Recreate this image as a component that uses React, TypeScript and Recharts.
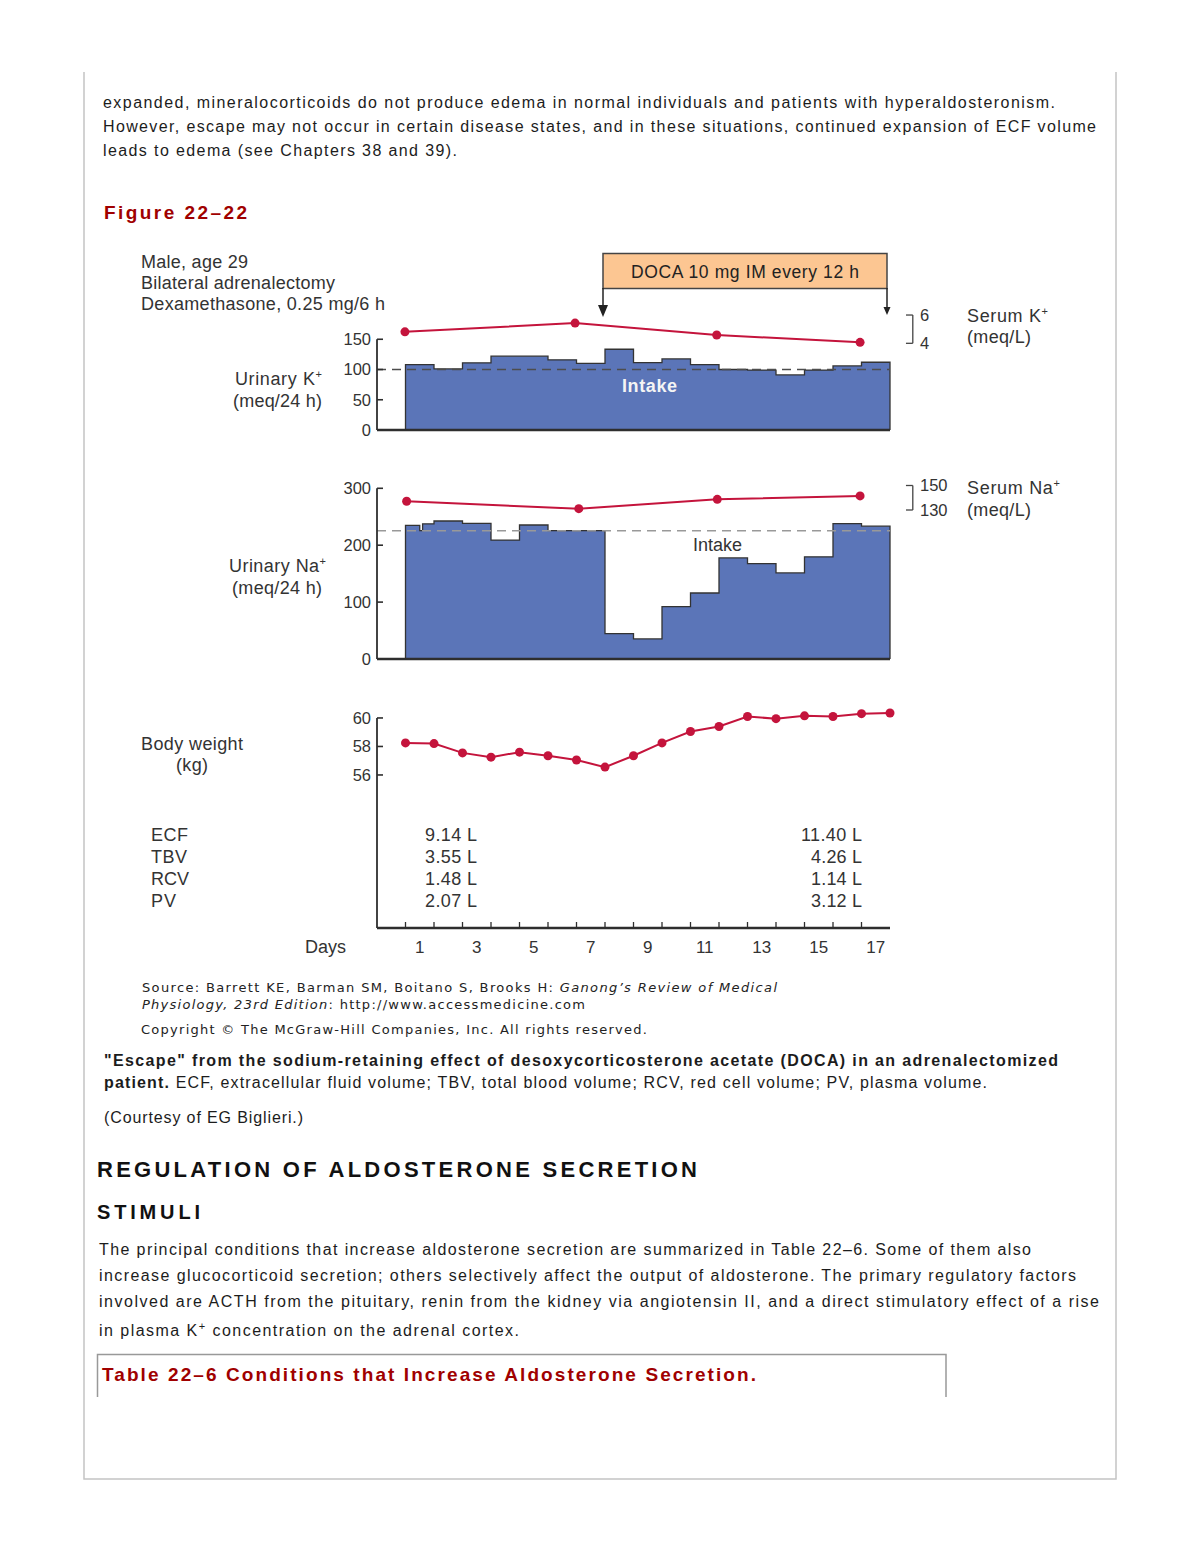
import React from "react";
import { ComposedChart, Area, Line, XAxis, YAxis, ReferenceLine } from "recharts";

const FONT = "'Liberation Sans', Arial, Helvetica, sans-serif";
const VERDANA = "'DejaVu Sans', Verdana, sans-serif";
const INK = "#333";
const PAGE_INK = "#1c1c1c";
const AXIS = "#2e2e2e";
const BLUE = "#5b75b8";
const RED = "#c4143c";
const DARK_RED = "#a00000";

// urinary K+ (meq/24 h), one step per day
const kDays = [1, 2, 3, 4, 5, 6, 7, 8, 9, 10, 11, 12, 13, 14, 15, 16, 17];
const urinaryK = [108, 101, 111, 122, 122, 116, 110, 133.5, 111.5, 117.5, 108, 100, 99, 91, 99, 106, 112];
const kIntake = 100;
const serumKDays = [0.48, 6.45, 11.42, 16.45];
const serumK = [4.81, 5.43, 4.59, 4.07];

// urinary Na+ (meq/24 h), step starts in days
const naStepStart = [0.5, 1.0, 1.1, 1.5, 2.5, 3.5, 4.5, 5.5, 7.5, 8.5, 9.5, 10.5, 11.5, 12.5, 13.5, 14.5, 15.5, 16.5];
const urinaryNa = [235, 225.5, 237.5, 242.5, 238.5, 209, 235.5, 225.5, 44.6, 35.2, 92, 116, 177.7, 167.7, 151.3, 179.5, 238, 233.4];
const naIntake = 225.5;
const serumNaDays = [0.54, 6.58, 11.44, 16.45];
const serumNa = [137.1, 131.1, 138.7, 141.5];

// body weight (kg)
const weightDays = [0.5, 1.5, 2.5, 3.5, 4.5, 5.5, 6.5, 7.5, 8.5, 9.5, 10.5, 11.5, 12.5, 13.5, 14.5, 15.5, 16.5, 17.5];
const bodyWeight = [58.25, 58.2, 57.55, 57.25, 57.6, 57.35, 57.05, 56.55, 57.35, 58.25, 59.05, 59.4, 60.1, 59.95, 60.15, 60.1, 60.3, 60.35];

// axes
const dayLabels = [1, 3, 5, 7, 9, 11, 13, 15, 17];
const dayMarks = [0.5, 1.5, 2.5, 3.5, 4.5, 5.5, 6.5, 7.5, 8.5, 9.5, 10.5, 11.5, 12.5, 13.5, 14.5, 15.5, 16.5];
const kTicks = [0, 50, 100, 150];
const naTicks = [0, 100, 200, 300];
const weightTicks = [56, 58, 60];
const serumKTicks = [4, 6];
const serumNaTicks = [130, 150];

const X_DOMAIN: [number, number] = [-0.5, 17.5];
const K_DOMAIN: [number, number] = [0, 208.3];
const SERUM_K_DOMAIN: [number, number] = [-2.13, 6.78];
const NA_DOMAIN: [number, number] = [0, 318.1];
const SERUM_NA_DOMAIN: [number, number] = [8.37, 156.12];
const WEIGHT_DOMAIN: [number, number] = [45.26, 60.98];
const BRACKET_IN = 18.06;
const BRACKET_OUT = 18.3;

function stepRows(starts: number[], values: number[]) {
  const rows = [{ x: starts[0], v: 0 }];
  starts.forEach((s, i) => rows.push({ x: s, v: values[i] }));
  rows.push({ x: X_DOMAIN[1], v: values[values.length - 1] });
  rows.push({ x: X_DOMAIN[1], v: 0 });
  return rows;
}

const kRows = stepRows(kDays.map((d) => d - 0.5), urinaryK);
const naRows = stepRows(naStepStart, urinaryNa);
const serumKRows = serumKDays.map((x, i) => ({ x, v: serumK[i] }));
const serumNaRows = serumNaDays.map((x, i) => ({ x, v: serumNa[i] }));
const weightRows = weightDays.map((x, i) => ({ x, v: bodyWeight[i] }));

const leftTick = (p: any) => (
  <g>
    <line x1={p.x} x2={p.x + 6} y1={p.y} y2={p.y} stroke={AXIS} strokeWidth={1.6} />
    <text x={p.x - 6} y={p.y} dy="0.36em" textAnchor="end" fontSize={16.5} fill={INK} fontFamily={FONT}>
      {p.payload.value}
    </text>
  </g>
);

const serumTick = (p: any) => (
  <text x={p.x + 30} y={p.y} dy="0.36em" textAnchor="start" fontSize={16.5} fill={INK} fontFamily={FONT}>
    {p.payload.value}
  </text>
);

const dayTick = (p: any) => {
  const v = p.payload.value;
  if (dayLabels.includes(v)) {
    return (
      <text x={p.x} y={p.y + 19} dy="0.36em" textAnchor="middle" fontSize={17} fill={INK} fontFamily={FONT}>
        {v}
      </text>
    );
  }
  return <line x1={p.x} x2={p.x} y1={p.y - 6} y2={p.y} stroke={AXIS} strokeWidth={1.3} />;
};

function Bracket({ lo, hi }: { lo: number; hi: number }) {
  const common = { yAxisId: "serum", stroke: "#444", strokeWidth: 1.3, ifOverflow: "visible" as const };
  return (
    <>
      <ReferenceLine {...common} segment={[{ x: BRACKET_IN, y: hi }, { x: BRACKET_OUT, y: hi }]} />
      <ReferenceLine {...common} segment={[{ x: BRACKET_IN, y: lo }, { x: BRACKET_OUT, y: lo }]} />
      <ReferenceLine {...common} segment={[{ x: BRACKET_OUT, y: lo }, { x: BRACKET_OUT, y: hi }]} />
    </>
  );
}

function PotassiumPanel() {
  return (
    <div style={{ position: "absolute", left: 297, top: 300 }}>
      <ComposedChart width={653} height={144} margin={{ top: 4, right: 0, bottom: 0, left: 0 }}>
        <XAxis type="number" dataKey="x" domain={X_DOMAIN} tick={false} tickLine={false}
          axisLine={{ stroke: AXIS, strokeWidth: 2.5 }} height={14} />
        <YAxis yAxisId="left" type="number" domain={K_DOMAIN} ticks={kTicks} interval={0} width={80}
          axisLine={false} tickLine={false} tickSize={0} tickMargin={0} tick={leftTick} />
        <YAxis yAxisId="serum" orientation="right" type="number" domain={SERUM_K_DOMAIN} ticks={serumKTicks}
          interval={0} width={60} axisLine={false} tickLine={false} tickSize={0} tickMargin={0} tick={serumTick} />
        <Area yAxisId="left" data={kRows} dataKey="v" type="stepAfter" stroke="#333" strokeWidth={1.3}
          fill={BLUE} fillOpacity={1} isAnimationActive={false} activeDot={false} />
        <ReferenceLine yAxisId="left" y={kIntake} stroke="#4d4d4d" strokeWidth={1.5} strokeDasharray="9 6" />
        <ReferenceLine yAxisId="left" segment={[{ x: X_DOMAIN[0], y: 0 }, { x: X_DOMAIN[0], y: 150 }]}
          stroke={AXIS} strokeWidth={1.8} ifOverflow="visible" />
        <Bracket lo={4} hi={6} />
        <Line yAxisId="serum" data={serumKRows} dataKey="v" stroke={RED} strokeWidth={2}
          dot={{ r: 4.5, fill: RED, stroke: RED, strokeWidth: 0 }} activeDot={false} isAnimationActive={false} />
      </ComposedChart>
    </div>
  );
}

function SodiumPanel() {
  return (
    <div style={{ position: "absolute", left: 297, top: 474 }}>
      <ComposedChart width={653} height={199} margin={{ top: 4, right: 0, bottom: 0, left: 0 }}>
        <XAxis type="number" dataKey="x" domain={X_DOMAIN} tick={false} tickLine={false}
          axisLine={{ stroke: AXIS, strokeWidth: 2.5 }} height={14} />
        <YAxis yAxisId="left" type="number" domain={NA_DOMAIN} ticks={naTicks} interval={0} width={80}
          axisLine={false} tickLine={false} tickSize={0} tickMargin={0} tick={leftTick} />
        <YAxis yAxisId="serum" orientation="right" type="number" domain={SERUM_NA_DOMAIN} ticks={serumNaTicks}
          interval={0} width={60} axisLine={false} tickLine={false} tickSize={0} tickMargin={0} tick={serumTick} />
        <Area yAxisId="left" data={naRows} dataKey="v" type="stepAfter" stroke="#333" strokeWidth={1.3}
          fill={BLUE} fillOpacity={1} isAnimationActive={false} activeDot={false} />
        <ReferenceLine yAxisId="left" y={naIntake} stroke="#999" strokeWidth={1.6} strokeDasharray="9 6" />
        <ReferenceLine yAxisId="left" segment={[{ x: X_DOMAIN[0], y: 0 }, { x: X_DOMAIN[0], y: 300 }]}
          stroke={AXIS} strokeWidth={1.8} ifOverflow="visible" />
        <Bracket lo={130} hi={150} />
        <Line yAxisId="serum" data={serumNaRows} dataKey="v" stroke={RED} strokeWidth={2}
          dot={{ r: 4.5, fill: RED, stroke: RED, strokeWidth: 0 }} activeDot={false} isAnimationActive={false} />
      </ComposedChart>
    </div>
  );
}

function WeightPanel() {
  const xTicks = [...dayMarks, ...dayLabels].sort((a, b) => a - b);
  return (
    <div style={{ position: "absolute", left: 297, top: 700 }}>
      <ComposedChart width={603} height={258} data={weightRows} margin={{ top: 4, right: 10, bottom: 0, left: 0 }}>
        <XAxis type="number" dataKey="x" domain={X_DOMAIN} ticks={xTicks} interval={0} tickLine={false}
          tickSize={0} tickMargin={0} tick={dayTick} axisLine={{ stroke: AXIS, strokeWidth: 2.5 }} height={30} />
        <YAxis yAxisId="left" type="number" domain={WEIGHT_DOMAIN} ticks={weightTicks} interval={0} width={80}
          axisLine={false} tickLine={false} tickSize={0} tickMargin={0} tick={leftTick} />
        <ReferenceLine yAxisId="left" segment={[{ x: X_DOMAIN[0], y: WEIGHT_DOMAIN[0] }, { x: X_DOMAIN[0], y: 60 }]}
          stroke={AXIS} strokeWidth={1.8} ifOverflow="visible" />
        <Line yAxisId="left" dataKey="v" stroke={RED} strokeWidth={2}
          dot={{ r: 4.5, fill: RED, stroke: RED, strokeWidth: 0 }} activeDot={false} isAnimationActive={false} />
      </ComposedChart>
    </div>
  );
}

type TxtProps = {
  x: number;
  y: number;
  w?: number;
  size?: number;
  bold?: boolean;
  fill?: string;
  anchor?: "start" | "middle" | "end";
  family?: string;
  children: React.ReactNode;
};

function Txt({ x, y, w, size = 16, bold, fill = PAGE_INK, anchor = "start", family = FONT, children }: TxtProps) {
  return (
    <text x={x} y={y} fontSize={size} fontWeight={bold ? 700 : 400} fill={fill} textAnchor={anchor}
      fontFamily={family} textLength={w} lengthAdjust={w ? "spacing" : undefined}>
      {children}
    </text>
  );
}

const sup = (t: string) => (
  <tspan dy={-7} fontSize={11}>
    {t}
  </tspan>
);

function Page() {
  return (
    <svg width={1200} height={1550} style={{ position: "absolute", left: 0, top: 0, pointerEvents: "none" }}>
      <path d="M84,72 V1479 H1116 V72" fill="none" stroke="#c4c4c4" strokeWidth={1.5} />

      <Txt x={103} y={108} w={952}>expanded, mineralocorticoids do not produce edema in normal individuals and patients with hyperaldosteronism.</Txt>
      <Txt x={103} y={132} w={993}>However, escape may not occur in certain disease states, and in these situations, continued expansion of ECF volume</Txt>
      <Txt x={103} y={156} w={354}>leads to edema (see Chapters 38 and 39).</Txt>
      <Txt x={104} y={219} w={143} size={19} bold fill={DARK_RED}>Figure 22–22</Txt>

      <Txt x={141} y={268} w={107} size={18} fill={INK}>Male, age 29</Txt>
      <Txt x={141} y={289} w={194} size={18} fill={INK}>Bilateral adrenalectomy</Txt>
      <Txt x={141} y={310} w={244} size={18} fill={INK}>Dexamethasone, 0.25 mg/6 h</Txt>

      <rect x={603} y={253.5} width={284} height={35} fill="#fcc692" stroke="#444" strokeWidth={1.5} />
      <Txt x={631} y={278} w={228} size={17.5} fill="#222">DOCA 10 mg IM every 12 h</Txt>
      <line x1={603} x2={603} y1={288} y2={308} stroke="#222" strokeWidth={1.5} />
      <polygon points="598,305 608,305 603,317" fill="#222" />
      <line x1={887} x2={887} y1={288} y2={309} stroke="#222" strokeWidth={1.5} />
      <polygon points="883.5,307 890.5,307 887,315" fill="#222" />

      <Txt x={235} y={385} w={87} size={18} fill={INK}>Urinary K{sup("+")}</Txt>
      <Txt x={233} y={407} w={89} size={18} fill={INK}>(meq/24 h)</Txt>
      <Txt x={967} y={322} w={81} size={18} fill={INK}>Serum K{sup("+")}</Txt>
      <Txt x={967} y={343} w={64} size={18} fill={INK}>(meq/L)</Txt>
      <Txt x={622} y={391.5} w={55} size={18} bold fill="#f4f4f4">Intake</Txt>

      <Txt x={229} y={572} w={97} size={18} fill={INK}>Urinary Na{sup("+")}</Txt>
      <Txt x={232} y={594} w={90} size={18} fill={INK}>(meq/24 h)</Txt>
      <Txt x={967} y={494} w={93} size={18} fill={INK}>Serum Na{sup("+")}</Txt>
      <Txt x={967} y={516} w={64} size={18} fill={INK}>(meq/L)</Txt>
      <Txt x={693} y={551} w={49} size={18} fill={INK}>Intake</Txt>

      <Txt x={141} y={750} w={102} size={18} fill={INK}>Body weight</Txt>
      <Txt x={176} y={771} w={32} size={18} fill={INK}>(kg)</Txt>

      <Txt x={151} y={840.5} w={37} size={18} fill={INK}>ECF</Txt>
      <Txt x={151} y={862.5} w={36} size={18} fill={INK}>TBV</Txt>
      <Txt x={151} y={884.5} w={38} size={18} fill={INK}>RCV</Txt>
      <Txt x={151} y={906.5} w={25} size={18} fill={INK}>PV</Txt>
      <Txt x={425} y={840.5} w={52} size={18} fill={INK}>9.14 L</Txt>
      <Txt x={425} y={862.5} w={52} size={18} fill={INK}>3.55 L</Txt>
      <Txt x={425} y={884.5} w={52} size={18} fill={INK}>1.48 L</Txt>
      <Txt x={425} y={906.5} w={52} size={18} fill={INK}>2.07 L</Txt>
      <Txt x={862} y={840.5} w={61} size={18} fill={INK} anchor="end">11.40 L</Txt>
      <Txt x={862} y={862.5} w={51} size={18} fill={INK} anchor="end">4.26 L</Txt>
      <Txt x={862} y={884.5} w={51} size={18} fill={INK} anchor="end">1.14 L</Txt>
      <Txt x={862} y={906.5} w={51} size={18} fill={INK} anchor="end">3.12 L</Txt>
      <Txt x={305} y={953} w={41} size={18} fill={INK}>Days</Txt>

      <Txt x={142} y={992} w={635} size={13} family={VERDANA} fill="#222">
        Source: Barrett KE, Barman SM, Boitano S, Brooks H: <tspan fontStyle="italic">Ganong’s Review of Medical</tspan>
      </Txt>
      <Txt x={142} y={1009} w={443} size={13} family={VERDANA} fill="#222">
        <tspan fontStyle="italic">Physiology, 23rd Edition</tspan>: http://www.accessmedicine.com
      </Txt>
      <Txt x={141} y={1034} w={506} size={13} family={VERDANA} fill="#222">
        Copyright © The McGraw-Hill Companies, Inc. All rights reserved.
      </Txt>

      <Txt x={104} y={1066} w={954} bold>"Escape" from the sodium-retaining effect of desoxycorticosterone acetate (DOCA) in an adrenalectomized</Txt>
      <Txt x={104} y={1088} w={883}>
        <tspan fontWeight={700}>patient.</tspan> ECF, extracellular fluid volume; TBV, total blood volume; RCV, red cell volume; PV, plasma volume.
      </Txt>
      <Txt x={104} y={1123} w={199}>(Courtesy of EG Biglieri.)</Txt>

      <Txt x={97} y={1177} w={600} size={22} bold fill="#111">REGULATION OF ALDOSTERONE SECRETION</Txt>
      <Txt x={97} y={1219} w={103} size={20} bold fill="#111">STIMULI</Txt>

      <Txt x={99} y={1255} w={932}>The principal conditions that increase aldosterone secretion are summarized in Table 22–6. Some of them also</Txt>
      <Txt x={99} y={1281} w={977}>increase glucocorticoid secretion; others selectively affect the output of aldosterone. The primary regulatory factors</Txt>
      <Txt x={99} y={1307} w={1000}>involved are ACTH from the pituitary, renin from the kidney via angiotensin II, and a direct stimulatory effect of a rise</Txt>
      <Txt x={99} y={1336} w={420}>
        in plasma K<tspan dy={-6} fontSize={11}>+</tspan><tspan dy={6}> concentration on the adrenal cortex.</tspan>
      </Txt>

      <path d="M97.5,1397 V1354.5 H946 V1397" fill="none" stroke="#999" strokeWidth={1.5} />
      <Txt x={102} y={1381} w={654} size={19} bold fill={DARK_RED}>Table 22–6 Conditions that Increase Aldosterone Secretion.</Txt>
    </svg>
  );
}

export default function App() {
  return (
    <div style={{ position: "absolute", left: 0, top: 0, width: 1200, height: 1550, background: "#fff" }}>
      <PotassiumPanel />
      <SodiumPanel />
      <WeightPanel />
      <Page />
    </div>
  );
}
